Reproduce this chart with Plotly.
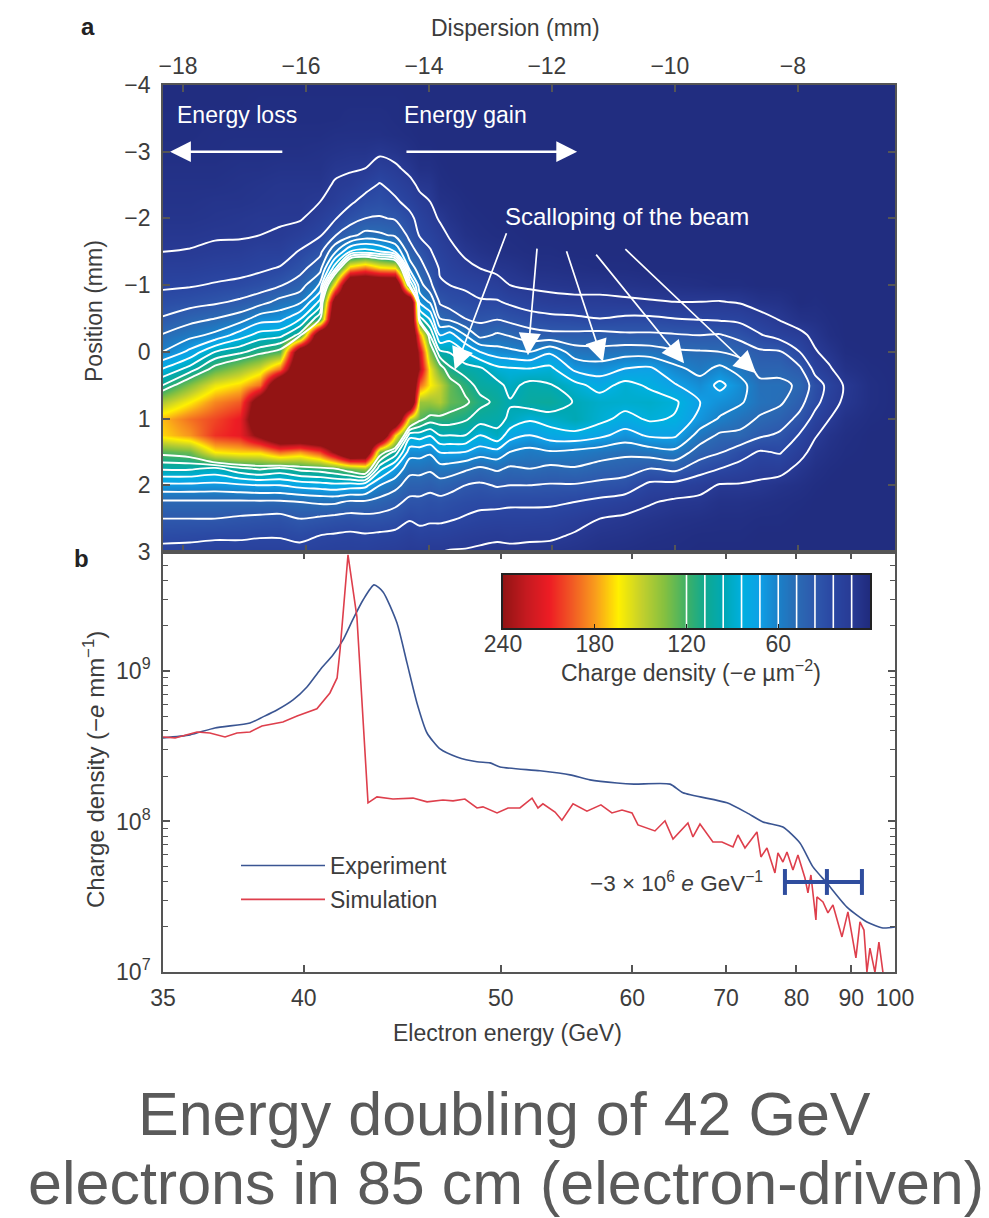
import plotly.graph_objects as go

W, H = 989, 1218

# Panel a: charge density (−e µm⁻²); values over 240 are the saturated core
dispersion_mm = [-18.33, -17.89, -17.48, -17.07, -16.75, -16.42, -16.10, -15.77, -15.53, -15.28,
                 -15.04, -14.80, -14.55, -14.31, -14.15, -13.98, -13.82, -13.66, -13.41, -13.17,
                 -12.89, -12.68, -12.36, -12.03, -11.63, -11.22, -10.81, -10.41, -10.00, -9.59,
                 -9.27, -8.94, -8.62, -8.29, -7.97, -7.72, -7.48, -7.24, -6.83, -6.42]
position_mm = [-4, -3.75, -3.5, -3.25, -3, -2.75, -2.5, -2.25, -2, -1.75, -1.5, -1.25, -1, -0.75,
               -0.5, -0.25, 0, 0.25, 0.5, 0.75, 1, 1.25, 1.5, 1.75, 2, 2.25, 2.5, 2.75, 3]
density_by_dispersion = [
    [2,2,3,3,4,5,6,7,8,10,12,17,22,29,37,49,60,84,108,145,175,170,125,98,69,46,36,28,20],
    [2,2,3,3,4,5,6,7,8,10,12.5,17,23,31,44,56,75,100,135,165,190,182,130,98,69,46,36,27,20],
    [2,2,3,4,4,5,6,8,9,11,14,19,25,34,48,63,96,125,160,185,200,205,165,93,68,46,36,26,19],
    [2,2,3,4,5,6,7,8,10,11,15,20,27,38,54,78,105,140,170,195,212,212,170,105,70,46,34,26,19],
    [2,3,3,4,5,6,8,9,11,12,18,22,30,43,66,89,115,155,190,270,280,250,170,110,72,46,33,25,19],
    [2,3,3,4,5,7,9,10,11,13,18,25,35,52,68,92,125,190,300,300,300,290,190,105,72,46,32,25,19],
    [2,3,3,4,5,7,9,10,11,17,25,32,42,57,82,112,280,300,300,300,300,290,180,112,76,48,36,27,20],
    [2,3,3,4,6,7,9,12,17,23,33,44,62,87,118,290,300,300,300,300,300,300,200,115,78,50,34,24,19],
    [2,3,3,5,7,10,13,16,23,35,58,92,170,270,300,300,300,300,300,300,300,300,245,120,80,50,32,23,18],
    [2,3,4,5,8,11,15,22,31,44,85,175,300,300,300,300,300,300,300,300,300,300,300,130,78,46,31,22,18],
    [2,3,4,5,8,12,20,28,36,52,90,190,300,300,300,300,300,300,300,300,300,300,290,140,76,46,32,23,18],
    [2,3,4,5,10,17,25,30,37,50,85,170,300,300,300,300,300,300,300,300,300,300,130,88,60,43,32,22,16],
    [2,3,3,4,8,14,20,26,35,46,72,165,300,300,300,300,300,300,300,300,300,170,104,70,52,39,30,21,15],
    [2,2,2,3,5,9,15,20,27,33,41,55,96,300,300,300,300,300,300,300,150,88,65,52,42,33,25,18,13],
    [2,2,2,2,3,5,10,15,20,23,33,42,53,68,100,180,220,230,190,140,125,90,65,52,42,33,27,20,13],
    [2,2,2,2,3,5,9,12,15,20,25,31,39,58,82,107,135,160,165,140,115,85,62,50,40,31,26,19,12],
    [2,2,2,2,2,3,4,6,11,15,19,23,25,34,48,72,98,128,150,145,115,96,73,55,43,32,26,19,12],
    [2,2,2,2,2,2,3,5,7,11,15,19,24,30,44,78,95,110,128,128,115,96,73,54,41,30,25,18,11],
    [2,2,2,2,2,2,2,3,4,6,10,15,22,28,36,60,84,101,115,123,110,96,72,50,36,28,23,16,11],
    [2,2,2,2,2,2,2,2,3,4,7,12,20,25,33,44,72,98,103,112,102,84,66,46,34,27,21,15,10],
    [2,2,2,2,2,2,2,2,2,3,5,9,17,25,35,50,65,87,100,105,100,93,68,50,37,27,20,14,9],
    [2,2,2,2,2,2,2,2,2,3,4,8,12,22,32,47,63,85,92,97,94,77,60,46,36,26,20,15,9],
    [2,2,2,2,2,2,2,2,2,2,3,5,10,18,29,41,60,84,100,103,86,72,56,48,36,26,20,14,9],
    [2,2,2,2,2,2,2,2,2,2,3,5,9,16,27,39,70,87,97,105,90,78,59,45,35,26,19,14,8],
    [2,2,2,2,2,2,2,2,2,2,2,4,8,15,26,39,54,69,88,95,96,80,57,47,35,24,16,11,7],
    [2,2,2,2,2,2,2,2,2,2,2,3,8,15,24,40,52,66,79,90,88,75,54,43,33,21,12,8,5],
    [2,2,2,2,2,2,2,2,2,2,2,3,7,14,26,38,55,72,88,89,80,67,51,41,31,18,10,7,4],
    [2,2,2,2,2,2,2,2,2,2,2,2,6,13,26,38,54,74,82,90,86,74,54,36,21,13,8,5,3],
    [2,2,2,2,2,2,2,2,2,2,2,2,5,12,24,37,50,63,73,86,83,74,57,39,20,10,6,4,3],
    [2,2,2,2,2,2,2,2,2,2,2,2,4,12,23,36,49,56,65,72,68,55,42,29,16,9,5,3,2],
    [2,2,2,2,2,2,2,2,2,2,2,2,3,12.5,22,37,48,63,75,66,59,46,37,24,11,6,4,3,2],
    [2,2,2,2,2,2,2,2,2,2,2,2,3,11,21,32,44,55,65,62,52,46,29,20,11,6,4,3,2],
    [2,2,2,2,2,2,2,2,2,2,2,2,2,7,16,25,38,44,51,52,47,38,23,16,10,5,3,2,2],
    [2,2,2,2,2,2,2,2,2,2,2,2,2,6,11,19,37,44,51,50,42,34,25,16,7,4,3,2,2],
    [2,2,2,2,2,2,2,2,2,2,2,2,2,2,6,15,24,38,46,40,33,23,16,9,5,3,2,2,2],
    [2,2,2,2,2,2,2,2,2,2,2,2,2,3,5,9,13,20,30,28,20,13,8,5,3,2,2,2,2],
    [2,2,2,2,2,2,2,2,2,2,2,2,2,2,3,4,8,13,20,17,12,7,5,3,2,2,2,2,2],
    [2,2,2,2,2,2,2,2,2,2,2,2,2,2,2,2,3,6,11,10,6,4,3,2,2,2,2,2,2],
    [2,2,2,2,2,2,2,2,2,2,2,2,2,2,2,2,2,3,4,4,3,2,2,2,2,2,2,2,2],
    [2,2,2,2,2,2,2,2,2,2,2,2,2,2,2,2,2,2,2,2,2,2,2,2,2,2,2,2,2],
]
contour_start, contour_end, contour_step = 12, 120, 12

# Panel b
experiment_energy_GeV = [35, 35.86, 36.69, 37.93, 38.41, 38.94, 39.57, 40.13, 40.67, 41.22, 41.66, 42.1,
                         42.56, 43.07, 43.5, 44.18, 44.68, 45.19, 45.72, 46.42, 47.36, 48.53, 49.32, 49.95,
                         52.61, 54.81, 56.37, 58.64, 60.16, 63.66, 65.02, 70.11, 72.7, 74.91, 77.86, 80.57,
                         82.77, 85.27, 89.13, 93.35, 97.03, 100]
experiment_density = [3.59e8, 3.76e8, 4.18e8, 4.51e8, 4.95e8, 5.5e8, 6.42e8, 7.83e8, 1.016e9, 1.277e9, 1.607e9, 2.2e9,
                      2.96e9, 3.73e9, 3.35e9, 2.08e9, 1.13e9, 6.13e8, 3.87e8, 3.03e8, 2.68e8, 2.49e8, 2.45e8, 2.3e8,
                      2.17e8, 2.04e8, 1.89e8, 1.8e8, 1.77e8, 1.77e8, 1.55e8, 1.33e8, 1.14e8, 9.93e7, 9.19e7, 7.2e7,
                      4.99e7, 3.9e7, 2.7e7, 2.15e7, 1.96e7, 1.99e7]
simulation_energy_GeV = [35, 35.38, 36.09, 36.52, 37.04, 37.46, 37.93, 38.37, 39.17, 39.73, 40.54, 41.09, 41.4, 41.53,
                         41.88, 42.28, 42.79, 43.21, 43.98, 44.99, 45.72, 46.58, 47.14, 47.82, 48.53, 48.89, 49.76,
                         50.46, 51.24, 52.06, 52.47, 52.82, 53.69, 54.2, 55.04, 56.13, 57.27, 58.2, 59.08, 59.98,
                         60.53, 62.15, 63.15, 63.97, 65.56, 66.11, 66.9, 68.4, 69.49, 70.87, 71.51, 72.43, 74.06,
                         74.62, 75.48, 76.65, 77.1, 77.86, 78.49, 79.43, 80.24, 81.4, 81.91, 82.42, 83.29, 83.47,
                         84.55, 85.46, 86.4, 88.14, 89.33, 90.98, 91.84, 92.7, 93.35, 94.02, 95.16, 96.08, 97.03]
simulation_density = [3.64e8, 3.59e8, 3.93e8, 3.87e8, 3.64e8, 3.87e8, 3.93e8, 4.31e8, 4.58e8, 5.02e8, 5.6e8, 7.14e8, 8.98e8, 1.38e9,
                      5.9e9, 2.285e9, 1.33e8, 1.455e8, 1.41e8, 1.43e8, 1.35e8, 1.39e8, 1.37e8, 1.41e8, 1.23e8, 1.25e8, 1.14e8,
                      1.23e8, 1.23e8, 1.43e8, 1.23e8, 1.31e8, 1.156e8, 1.02e8, 1.31e8, 1.17e8, 1.29e8, 1.14e8, 1.19e8, 1.14e8,
                      9.48e7, 8.65e7, 1.01e8, 7.65e7, 9.77e7, 7.89e7, 9.62e7, 7.31e7, 7.31e7, 6.78e7, 8.13e7, 6.67e7, 8.52e7,
                      5.81e7, 6.67e7, 4.55e7, 6.18e7, 5.38e7, 6.27e7, 4.76e7, 5.98e7, 4.21e7, 3.35e7, 4.41e7, 2.22e7, 3.15e7,
                      2.92e7, 2.47e7, 2.79e7, 1.71e7, 2.51e7, 1.24e7, 2.15e7, 1.9e7, 1.0e7, 1.44e7, 0.995e7, 1.58e7, 0.995e7]
bar_energy_GeV = [78.17, 85.27, 92.26]
bar_density = 3.96e7
bar_cap_low, bar_cap_high = 3.25e7, 4.83e7

energy_ticks = [35, 40, 50, 60, 70, 80, 90, 100]
density_ticks = [1e7, 1e8, 1e9]
density_tick_labels = ["10<sup>7</sup>", "10<sup>8</sup>", "10<sup>9</sup>"]
dispersion_ticks = [-18, -16, -14, -12, -10, -8]
position_ticks = [-4, -3, -2, -1, 0, 1, 2, 3]

# Colour scale
scale_stops = [0, 12, 24, 36, 48, 60, 72, 84, 96, 108, 120, 135, 150, 165, 180, 195, 210, 225, 240]
scale_colors = ["#1f2a7c", "#283a94", "#2a46a2", "#2e58ac", "#2a6ab4", "#1a80c8", "#0f9fe6", "#00b0e0",
                "#00a8b4", "#0faa92", "#3cb068", "#85c040", "#c4d02c", "#fff000", "#f99d1c", "#f15a24",
                "#ed1c24", "#c51a20", "#931414"]
scale_ticks = [240, 180, 120, 60]
scale_samples = [0, 12, 24, 36, 48, 60, 72, 84, 96, 108, 120, 135, 150, 165, 180, 195, 210, 225, 240]
scale_contour_marks = [120, 108, 96, 84, 72, 60, 48, 36, 24, 12]

# Arrows in panel a: tail and head as (dispersion, position)
energy_arrows = [(-16.36, -3, -18.21, -3), (-14.39, -3, -11.59, -3)]
scallop_arrows = [(-12.73, -1.80, -13.58, 0.27), (-12.24, -1.57, -12.39, 0.05), (-11.77, -1.53, -11.17, 0.15),
                  (-11.30, -1.48, -9.85, 0.17), (-10.83, -1.56, -8.68, 0.32)]

TEXT = "#3c3c3c"
AXIS = "#555555"
FONT = "Liberation Sans"
L, R, T, B = 163, 895, 85, 972
colorscale = [[s / 240, c] for s, c in zip(scale_stops, scale_colors)]
z_grid = [list(row) for row in zip(*density_by_dispersion)]


def inv(values):
    return [1 / v for v in values]


def fx(px):
    return (px - L) / (R - L)


def fy(py):
    return 1 - (py - T) / (B - T)


fig = go.Figure()
fig.add_trace(go.Heatmap(x=dispersion_mm, y=position_mm, z=z_grid, zmin=0, zmax=240, colorscale=colorscale,
                         zsmooth="best", showscale=False, xaxis="x", yaxis="y", hoverinfo="skip"))
fig.add_trace(go.Contour(x=dispersion_mm, y=position_mm, z=z_grid, showscale=False, autocontour=False, showlegend=False,
                         contours=dict(coloring="none", start=contour_start, end=contour_end, size=contour_step),
                         line=dict(color="white", width=1.9, smoothing=0.9), xaxis="x", yaxis="y", hoverinfo="skip"))
fig.add_trace(go.Scatter(x=inv(experiment_energy_GeV), y=experiment_density, mode="lines", name="Experiment",
                         legendgroup="e", line=dict(color="#3a5592", width=1.6, shape="spline", smoothing=0.6),
                         xaxis="x2", yaxis="y2"))
fig.add_trace(go.Scatter(x=inv(simulation_energy_GeV), y=simulation_density, mode="lines", name="Simulation",
                         legendgroup="s", line=dict(color="#de3f4c", width=1.6), xaxis="x2", yaxis="y2"))
bx = inv(bar_energy_GeV)
fig.add_trace(go.Scatter(x=[bx[0], bx[2], None, bx[0], bx[0], None, bx[1], bx[1], None, bx[2], bx[2]],
                         y=[bar_density, bar_density, None, bar_cap_low, bar_cap_high, None, bar_cap_low, bar_cap_high,
                            None, bar_cap_low, bar_cap_high],
                         mode="lines", showlegend=False, line=dict(color="#2f4d9e", width=4), xaxis="x2", yaxis="y2"))
# Colour key
fig.add_trace(go.Heatmap(x=scale_samples, y=[0, 1], z=[scale_samples, scale_samples], zmin=0, zmax=240, colorscale=colorscale,
                         zsmooth="best", showscale=False, xaxis="x3", yaxis="y3", hoverinfo="skip"))
mark_x, mark_y = [], []
for m in scale_contour_marks:
    mark_x += [m, m, None]
    mark_y += [0, 1, None]
fig.add_trace(go.Scatter(x=mark_x, y=mark_y, mode="lines", showlegend=False, line=dict(color="white", width=1.6),
                         xaxis="x3", yaxis="y3", hoverinfo="skip"))

font = dict(family=FONT, size=23, color=TEXT)
common = dict(showgrid=False, zeroline=False, showline=True, linecolor=AXIS, linewidth=1.6, ticks="inside",
              tickcolor=AXIS, tickwidth=1.5, ticklen=7, mirror="ticks", tickfont=font, automargin=False)

center = dict(xanchor="center", yanchor="middle", showarrow=False)
annotations = [
    dict(text="<b>a</b>", x=fx(88), y=fy(27), xref="paper", yref="paper",
         font=dict(family=FONT, size=24, color="#222"), **center),
    dict(text="<b>b</b>", x=fx(81), y=fy(558), xref="paper", yref="paper",
         font=dict(family=FONT, size=24, color="#222"), **center),
    dict(text="Energy loss", x=-17.12, y=-3.55, xref="x", yref="y",
         font=dict(family=FONT, size=23, color="white"), **center),
    dict(text="Energy gain", x=-13.4, y=-3.55, xref="x", yref="y",
         font=dict(family=FONT, size=23, color="white"), **center),
    dict(text="Scalloping of the beam", x=-10.78, y=-2.03, xref="x", yref="y",
         font=dict(family=FONT, size=24, color="white"), **center),
    dict(text="Dispersion (mm)", x=fx(515), y=fy(28), xref="paper", yref="paper", font=font, **center),
    dict(text="Electron energy (GeV)", x=fx(507), y=fy(1033), xref="paper", yref="paper", font=font, **center),
    dict(text="Position (mm)", x=fx(94), y=fy(311), xref="paper", yref="paper", textangle=-90, font=font, **center),
    dict(text="Charge density (−<i>e</i> mm<sup>−1</sup>)", x=fx(94), y=fy(770), xref="paper", yref="paper", textangle=-90,
         font=dict(family=FONT, size=24, color=TEXT), **center),
    dict(text="Charge density (−<i>e</i> µm<sup>−2</sup>)", x=fx(691), y=fy(671), xref="paper", yref="paper", font=font, **center),
    dict(text="Energy doubling of 42 GeV", x=fx(504), y=fy(1114), xref="paper", yref="paper",
         font=dict(family=FONT, size=61, color="#5a5a5a"), **center),
    dict(text="electrons in 85 cm (electron-driven)", x=fx(506), y=fy(1183), xref="paper", yref="paper",
         font=dict(family=FONT, size=61, color="#5a5a5a"), **center),
    dict(text="−3 × 10<sup>6</sup> <i>e</i> GeV<sup>−1</sup>", x=1 / 75.2, y=7.6, xref="x2", yref="y2", showarrow=False,
         xanchor="right", yanchor="middle", font=dict(family=FONT, size=22.5, color=TEXT)),
]
for x0, y0, x1, y1 in energy_arrows:
    annotations.append(dict(x=x1, y=y1, ax=x0, ay=y0, xref="x", yref="y", axref="x", ayref="y", text="", showarrow=True,
                            arrowhead=2, arrowsize=1.6, arrowwidth=2.6, arrowcolor="white"))
for x0, y0, x1, y1 in scallop_arrows:
    annotations.append(dict(x=x1, y=y1, ax=x0, ay=y0, xref="x", yref="y", axref="x", ayref="y", text="", showarrow=True,
                            arrowhead=2, arrowsize=2.6, arrowwidth=1.7, arrowcolor="white"))

fig.update_layout(
    width=W, height=H, margin=dict(l=L, r=W - R, t=T, b=H - B, autoexpand=False), paper_bgcolor="white", plot_bgcolor="white",
    font=font,
    xaxis=dict(domain=[0, 1], range=[-18.325, -6.42], side="top", anchor="y", tickvals=dispersion_ticks, ticklabelshift=-5,
               **common),
    yaxis=dict(domain=[fy(552), 1], range=[3, -4], anchor="x", tickvals=position_ticks, ticklabelstandoff=6, **common),
    xaxis2=dict(domain=[0, 1], range=[1 / 35, 1 / 100], anchor="y2", tickvals=inv(energy_ticks), ticklabelstandoff=5,
                ticktext=[str(v) for v in energy_ticks], **common),
    yaxis2=dict(domain=[0, fy(552)], type="log", range=[7, 9.79], anchor="x2", tickvals=density_ticks,
                ticktext=density_tick_labels, ticklabelstandoff=6,
                minor=dict(ticks="inside", ticklen=5, tickwidth=1.2, tickcolor=AXIS, dtick="D1", showgrid=False), **common),
    xaxis3=dict(domain=[fx(503), fx(870)], range=[240, 0], anchor="y3", tickvals=scale_ticks, showgrid=False, zeroline=False,
                showline=True, mirror=True, linecolor="#222", linewidth=1.5, ticks="inside", ticklen=4, tickcolor="#222",
                tickfont=font, automargin=False, ticklabelstandoff=-5),
    yaxis3=dict(domain=[fy(628), fy(575)], range=[0, 1], anchor="x3", showticklabels=False, ticks="", automargin=False,
                showgrid=False, zeroline=False, showline=True, mirror=True, linecolor="#222", linewidth=1.5),
    showlegend=True,
    legend=dict(x=fx(236), y=fy(844), xanchor="left", yanchor="top", bgcolor="rgba(0,0,0,0)", itemwidth=84,
                tracegroupgap=1, font=font, itemclick=False),
    annotations=annotations,
)
fig.write_html("out.html", post_script="document.body.style.margin='0';", config=dict(displayModeBar=False))
